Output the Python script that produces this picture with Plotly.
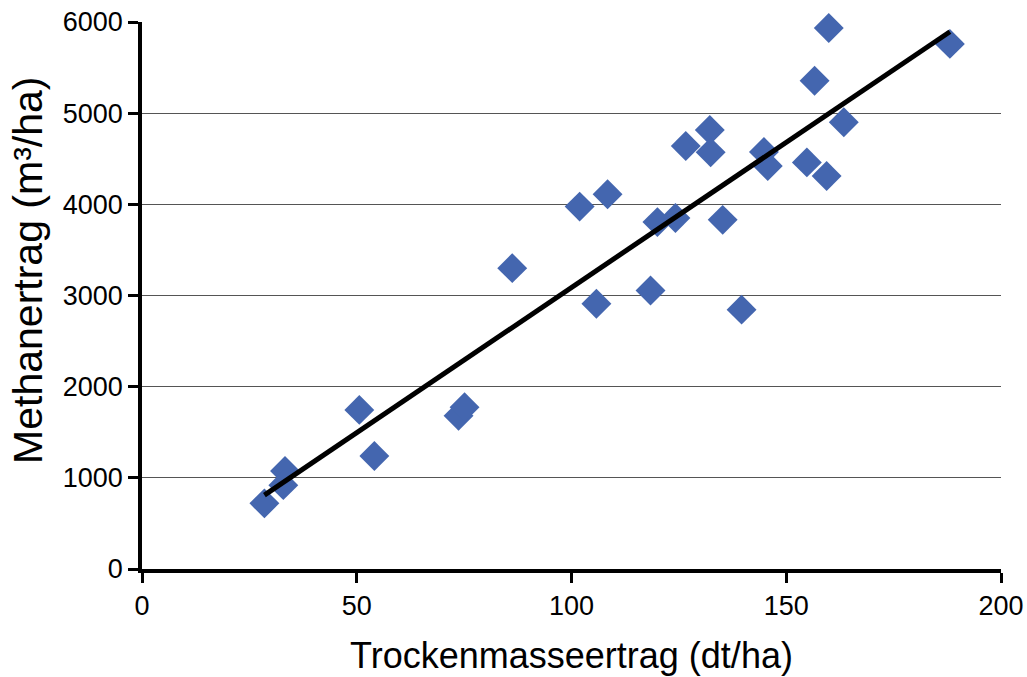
import numpy as np
import plotly.graph_objects as go

trockenmasse = [28.5, 33.3, 32.9, 50.6, 54.1, 73.7, 75.1, 86.2, 101.9, 105.8, 108.4,
                118.4, 120.0, 124.2, 126.6, 132.2, 132.4, 135.2, 139.6, 144.8, 145.7,
                154.8, 156.6, 159.4, 159.9, 163.4, 188.1]
methan = [720, 1075, 920, 1745, 1240, 1680, 1775, 3300, 3975, 2910, 4110,
          3055, 3805, 3850, 4640, 4815, 4570, 3830, 2845, 4575, 4420,
          4460, 5355, 4310, 5935, 4900, 5760]

x_ticks = [0, 50, 100, 150, 200]
y_ticks = [0, 1000, 2000, 3000, 4000, 5000, 6000]

slope, intercept = np.polyfit(trockenmasse, methan, 1)
x_fit = [min(trockenmasse), max(trockenmasse)]
y_fit = [slope * v + intercept for v in x_fit]

fig = go.Figure()
fig.add_trace(go.Scatter(
    x=trockenmasse, y=methan, mode="markers",
    marker=dict(symbol="diamond", size=23, color="#4466AF", line=dict(width=0)),
    showlegend=False, hoverinfo="x+y", cliponaxis=False))
fig.add_trace(go.Scatter(
    x=x_fit, y=y_fit, mode="lines",
    line=dict(color="black", width=5), showlegend=False))

font = "Liberation Sans, Arial, sans-serif"
fig.update_layout(
    width=1027, height=677,
    margin=dict(l=142, r=26, t=22, b=108),
    paper_bgcolor="white", plot_bgcolor="white",
    font=dict(family=font, color="black"),
)
fig.update_xaxes(
    range=[0, 200], tickvals=x_ticks, ticks="outside", ticklen=10, tickwidth=2.5,
    tickcolor="black", showline=True, linecolor="black", linewidth=3.5,
    showgrid=False, zeroline=False, tickfont=dict(size=27), automargin=False,
    ticklabeloverflow="allow",
    title=dict(text="Trockenmasseertrag (dt/ha)", font=dict(size=36), standoff=24),
)
fig.update_yaxes(
    range=[0, 6000], tickvals=y_ticks, ticks="outside", ticklen=10, tickwidth=2.5,
    tickcolor="black", showline=True, linecolor="black", linewidth=3.5,
    showgrid=True, gridcolor="#555555", gridwidth=1, zeroline=False,
    tickfont=dict(size=27), automargin=False, ticklabeloverflow="allow",
)
fig.add_annotation(
    text="Methanertrag (m³/ha)", xref="paper", yref="paper",
    x=-0.1327, y=0.545, xanchor="center", yanchor="middle",
    textangle=-90, showarrow=False, font=dict(size=41, family=font, color="black"),
)
fig.write_html(
    "out.html",
    config={"displayModeBar": False},
    post_script="document.body.style.margin='0';document.body.style.overflow='hidden';",
)
